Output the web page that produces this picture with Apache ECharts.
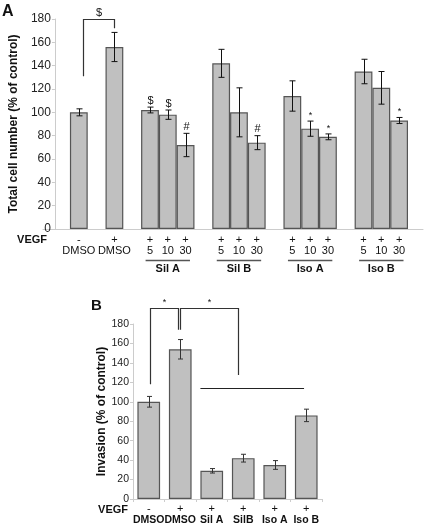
<!DOCTYPE html>
<html><head><meta charset="utf-8">
<script src="https://cdn.jsdelivr.net/npm/echarts@6/dist/echarts.min.js"></script>
<style>html,body{margin:0;padding:0;background:#fff}#c{width:425px;height:529px}</style>
</head><body><div id="c"></div>
<script>
// ---------- Panel A data ----------
const catsA = ['DMSO -','g1','DMSO +','g2','Sil A 5','Sil A 10','Sil A 30','g3','Sil B 5','Sil B 10','Sil B 30','g4','Iso A 5','Iso A 10','Iso A 30','g5','Iso B 5','Iso B 10','Iso B 30'];
const vegfA = ['-','','+','','+','+','+','','+','+','+','','+','+','+','','+','+','+'];
const doseA = ['DMSO','','DMSO','','5','10','30','','5','10','30','','5','10','30','','5','10','30'];
const valuesA = [100,null,156,null,102,98,72,null,142,100,74,null,114,86,79,null,135,121,93];
const errorsA = [3,null,12.5,null,2.5,4,10,null,12,21,6,null,13,6.5,2.5,null,10.5,14,2.6];
const marksA  = ['','','','','$','$','#','','','','#','','','*','*','','','','*'];
const groupsA = [['Sil A',4,6],['Sil B',8,10],['Iso A',12,14],['Iso B',16,18]];
// [left pos, left leg bottom, right pos, right leg bottom, top value, text]
const bracketsA = [[0.22,131,2,172,180,'$']];
const ticksA = [0,20,40,60,80,100,120,140,160,180];

// ---------- Panel B data ----------
const catsB  = ['DMSO -','DMSO +','Sil A','SilB','Iso A','Iso B'];
const namesB = ['DMSO','DMSO','Sil A','SilB','Iso A','Iso B'];
const vegfB  = ['-','+','+','+','+','+'];
const valuesB = [100,154,29,42,35,86];
const errorsB = [5.5,10,2.3,4,4.5,6.4];
const bracketsB = [[0.05,118,0.93,174,196,'*'],[1.0,174,2.82,127.6,196,'*']];
const linesB = [[1.64,4.93,114]];
const ticksB = [0,20,40,60,80,100,120,140,160,180];

const FF = '"Liberation Sans", Arial, Helvetica, sans-serif';
const chart = echarts.init(document.getElementById('c'));

function xAt(api, pos){
  const i0 = Math.floor(pos), f = pos - i0;
  return api.coord([i0, 0])[0] + f * api.size([1, 0])[0];
}
function yAt(api, v){ return api.coord([0, v])[1]; }

function errorRender(marks, cap, color, markFont){
  return function(params, api){
    const i = api.value(0), m = api.value(1), e = api.value(2);
    const x = Math.round(api.coord([i, m])[0]) + 0.5;
    const yt = api.coord([i, m + e])[1], yb = api.coord([i, m - e])[1];
    const st = {stroke: color, lineWidth: 1};
    const ch = [
      {type:'line', shape:{x1:x,y1:yt,x2:x,y2:yb}, style:st},
      {type:'line', shape:{x1:x-cap,y1:yt,x2:x+cap,y2:yt}, style:st},
      {type:'line', shape:{x1:x-cap,y1:yb,x2:x+cap,y2:yb}, style:st}
    ];
    const mk = marks ? marks[i] : '';
    if (mk) ch.push({type:'text', style:{text:mk, x:x, y:yt-1, align:'center', textAlign:'center', verticalAlign:'bottom', textVerticalAlign:'bottom', font:markFont(mk), fill:'#111'}});
    return {type:'group', children: ch};
  };
}
function bracketRender(list, font){
  return function(params, api){
    const b = list[params.dataIndex];
    const xl = Math.round(xAt(api, b[0])) + 0.5, xr = Math.round(xAt(api, b[2])) + 0.5;
    const yl = yAt(api, b[1]), yr = yAt(api, b[3]), yt = Math.round(yAt(api, b[4])) + 0.5;
    return {type:'group', children:[
      {type:'polyline', shape:{points:[[xl,yl],[xl,yt],[xr,yt],[xr,yr]]}, style:{stroke:'#333', lineWidth:1.2, fill:null}},
      {type:'text', style:{text:b[5], x:(xl+xr)/2, y:yt-1, align:'center', textAlign:'center', verticalAlign:'bottom', textVerticalAlign:'bottom', font:font, fill:'#111'}}
    ]};
  };
}
function hlineRender(params, api){
  const l = linesB[params.dataIndex];
  const y = Math.round(yAt(api, l[2])) + 0.5;
  return {type:'line', shape:{x1:xAt(api,l[0]), y1:y, x2:xAt(api,l[1]), y2:y}, style:{stroke:'#222', lineWidth:1.2}};
}
function groupRender(params, api){
  const g = groupsA[params.dataIndex];
  const bw = api.size([1, 0])[0];
  const x1 = api.coord([g[1], 0])[0] - bw/2 + 4.5;
  const x2 = api.coord([g[2], 0])[0] + bw/2 - 4.5;
  const y0 = api.coord([g[1], 0])[1];
  return {type:'group', children:[
    {type:'line', shape:{x1:x1, y1:y0+31.5, x2:x2, y2:y0+31.5}, style:{stroke:'#555', lineWidth:1.5}},
    {type:'text', style:{text:g[0], x:(x1+x2)/2, y:y0+39.5, align:'center', textAlign:'center', verticalAlign:'middle', textVerticalAlign:'middle', font:'bold 11px ' + FF, fill:'#111'}}
  ]};
}
const markFontA = mk => (mk === '*' ? '9px ' : '11px ') + FF;

const AXC = '#cccccc';
const errDataA = valuesA.map((v,i) => v == null ? null : [i, v, errorsA[i]]).filter(d => d);
const errDataB = valuesB.map((v,i) => [i, v, errorsB[i]]);

chart.setOption({
  animation: false,
  textStyle: {fontFamily: FF},
  grid: [
    {left: 58, right: 17, top: 19, bottom: 300},
    {left: 43, right: 2, top: 19, bottom: 300},
    {left: 133, right: 103, top: 324, bottom: 30}
  ],
  xAxis: [
    {type:'category', gridIndex:0, data: catsA,
     axisLine:{show:false}, axisTick:{show:false},
     axisLabel:{interval:0, margin:5, color:'#111',
       formatter: (v, i) => vegfA[i] === '' ? '' : '{s|' + vegfA[i] + '}\n{n|' + doseA[i] + '}',
       rich:{s:{fontSize:11, lineHeight:11, fontFamily:FF, color:'#111'}, n:{fontSize:11, lineHeight:11, fontFamily:FF, color:'#111'}}}},
    {type:'category', gridIndex:1, data:[''], axisLine:{lineStyle:{color:AXC}}, axisTick:{show:false}, axisLabel:{show:false}},
    {type:'category', gridIndex:2, data: catsB,
     axisLine:{lineStyle:{color:AXC}}, axisTick:{show:true, length:3, lineStyle:{color:AXC}},
     axisLabel:{interval:0, margin:5, color:'#111',
       formatter: (v, i) => '{s|' + vegfB[i] + '}\n{n|' + namesB[i] + '}',
       rich:{s:{fontSize:11, lineHeight:10.5, fontFamily:FF, color:'#111'}, n:{fontSize:10.5, fontWeight:'bold', lineHeight:11, fontFamily:FF, color:'#111'}}}}
  ],
  yAxis: [
    {type:'value', gridIndex:0, min:ticksA[0], max:ticksA[ticksA.length-1], interval:ticksA[1]-ticksA[0], offset:15,
     axisLine:{show:true, lineStyle:{color:AXC}}, axisTick:{show:true, length:3, lineStyle:{color:AXC}},
     axisLabel:{fontSize:12, color:'#222', margin:4}, splitLine:{show:false},
     name:'Total cell number (% of control)', nameLocation:'middle', nameGap:26,
     nameTextStyle:{fontSize:12, fontWeight:'bold', color:'#111', fontFamily:FF}},
    {type:'value', gridIndex:1, min:0, max:1, show:false},
    {type:'value', gridIndex:2, min:ticksB[0], max:ticksB[ticksB.length-1], interval:ticksB[1]-ticksB[0],
     axisLine:{show:true, lineStyle:{color:AXC}}, axisTick:{show:true, length:3, lineStyle:{color:AXC}},
     axisLabel:{fontSize:10.5, color:'#222', margin:4}, splitLine:{show:false},
     name:'Invasion (% of control)', nameLocation:'middle', nameGap:20,
     nameTextStyle:{fontSize:12, fontWeight:'bold', color:'#111', fontFamily:FF}}
  ],
  graphic: [
    {type:'text', x:2, y:4, style:{text:'A', font:'bold 16px ' + FF, fill:'#111'}},
    {type:'text', x:91, y:298, style:{text:'B', font:'bold 15px ' + FF, fill:'#111'}},
    {type:'text', x:47, y:240, style:{text:'VEGF', align:'right', textAlign:'right', verticalAlign:'middle', textVerticalAlign:'middle', font:'bold 11px ' + FF, fill:'#111'}},
    {type:'text', x:128, y:510, style:{text:'VEGF', align:'right', textAlign:'right', verticalAlign:'middle', textVerticalAlign:'middle', font:'bold 11px ' + FF, fill:'#111'}}
  ],
  series: [
    {type:'bar', xAxisIndex:0, yAxisIndex:0, data: valuesA.map(v => v == null ? '-' : v),
     barCategoryGap:'0%', itemStyle:{color:'#c0c0c0', borderColor:'#555', borderWidth:1.2}},
    {type:'custom', xAxisIndex:0, yAxisIndex:0, data: errDataA, clip:false, z:5,
     renderItem: errorRender(marksA, 3, '#111', markFontA)},
    {type:'custom', xAxisIndex:0, yAxisIndex:0, data: bracketsA.map(b => [Math.round(b[0]), b[4]]), clip:false, z:5,
     renderItem: bracketRender(bracketsA, '11px ' + FF)},
    {type:'custom', xAxisIndex:0, yAxisIndex:0, data: groupsA.map(g => [g[1], 0]), clip:false, z:5,
     renderItem: groupRender},
    {type:'bar', xAxisIndex:2, yAxisIndex:2, data: valuesB,
     barCategoryGap:'28%', itemStyle:{color:'#c0c0c0', borderColor:'#555', borderWidth:1.2}},
    {type:'custom', xAxisIndex:2, yAxisIndex:2, data: errDataB, clip:false, z:5,
     renderItem: errorRender(null, 2.5, '#333', markFontA)},
    {type:'custom', xAxisIndex:2, yAxisIndex:2, data: bracketsB.map(b => [Math.round(b[0]), b[4]]), clip:false, z:5,
     renderItem: bracketRender(bracketsB, '9px ' + FF)},
    {type:'custom', xAxisIndex:2, yAxisIndex:2, data: linesB.map(l => [Math.round(l[0]), l[2]]), clip:false, z:5,
     renderItem: hlineRender}
  ]
});
</script>
</body></html>
